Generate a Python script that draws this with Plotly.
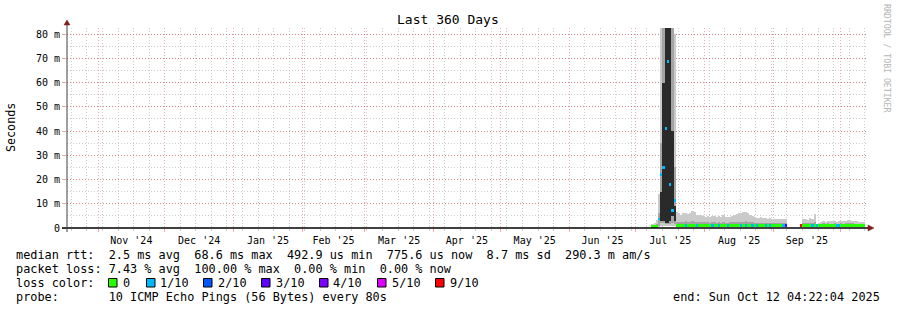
import plotly.graph_objects as go
import pandas as pd

# ---------------- data ----------------
first_day = "2025-07-08"          # first daily bin with data
range_start = "2024-10-18 01:00"
range_end = "2025-10-13 01:00"

smoke_min = [0.4, 0.4, 0.4, 0.5, 0.8, 1.0, 1.0, 1.0, 1.0, 1.0, 0.8,
             0.4, 0.4, 0.4, 0.4, 0.4, 0.4, 0.4, 0.4, 0.4, 0.4,
             0.4, 0.4, 0.4, 0.4, 0.4, 0.4, 0.4, 0.4, 0.4, 0.4,
             0.4, 0.4, 0.4, 0.4, 0.4, 0.4, 0.4, 0.4, 0.4, 0.4,
             0.4, 0.4, 0.4, 0.4, 0.4, 0.4, 0.4, 0.4, 0.4, 0.4,
             0.4, 0.4, 0.4, 0.4, 0.4, 0.4, 0.4, 0.4, 0.4, 0.4,
             None, None, None, None, None, None,
             None,
             0.4, 0.4, 0.4, 0.4, 0.4, 0.4, 0.4, 0.4,
             0.4, 0.4, 0.4, 0.4, 0.4, 0.4, 0.4, 0.4, 0.4, 0.4,
             0.4, 0.4, 0.4, 0.4, 0.4, 0.4, 0.4, 0.4, 0.4, 0.4]
smoke_max = [1.5, 2.0, 3.5, 14.0, 85, 85, 85, 85, 85, 85, 80,
             6.7, 6.0, 5.4, 6.0, 6.2, 5.8, 6.3, 7.0, 6.5, 5.4,
             5.2, 5.5, 4.8, 4.7, 5.0, 4.6, 4.8, 5.0, 4.5, 4.8,
             4.6, 5.2, 4.5, 4.4, 4.6, 4.8, 5.2, 5.8, 6.3, 6.0,
             6.5, 6.7, 6.0, 5.5, 4.8, 4.6, 4.3, 4.2, 4.4, 4.0,
             4.2, 3.9, 4.1, 3.8, 3.9, 3.7, 3.8, 3.9, 3.6, 3.8,
             None, None, None, None, None, None,
             None,
             3.6, 3.8, 3.5, 4.1, 3.6, 5.7, 1.8, 1.9,
             2.6, 2.7, 2.6, 2.8, 2.7, 2.7, 2.8, 2.6, 2.7, 2.9,
             2.7, 3.0, 3.2, 3.3, 2.9, 2.8, 2.7, 2.6, 2.5, 2.4]
mid_lo = [0.4, 0.4, 0.4, 0.8, 2.0, 2.0, 1.5, 1.5, 1.5, 2.0, 1.5,
          0.4, 0.4, 0.4, 0.4, 0.4, 0.4, 0.4, 0.4, 0.4, 0.4,
          0.4, 0.4, 0.4, 0.4, 0.4, 0.4, 0.4, 0.4, 0.4, 0.4,
          0.4, 0.4, 0.4, 0.4, 0.4, 0.4, 0.4, 0.4, 0.4, 0.4,
          0.4, 0.4, 0.4, 0.4, 0.4, 0.4, 0.4, 0.4, 0.4, 0.4,
          0.4, 0.4, 0.4, 0.4, 0.4, 0.4, 0.4, 0.4, 0.4, 0.4,
          None, None, None, None, None, None,
          None,
          0.4, 0.4, 0.4, 0.4, 0.4, 0.4, 0.4, 0.4,
          0.4, 0.4, 0.4, 0.4, 0.4, 0.4, 0.4, 0.4, 0.4, 0.4,
          0.4, 0.4, 0.4, 0.4, 0.4, 0.4, 0.4, 0.4, 0.4, 0.4]
mid_hi = [1.0, 1.2, 1.8, 6.0, 35, 85, 85, 85, 85, 85, 25,
          2.6, 2.5, 2.4, 2.6, 2.7, 2.5, 2.6, 2.8, 2.6, 2.4,
          2.4, 2.5, 2.3, 2.3, 2.4, 2.2, 2.3, 2.4, 2.2, 2.3,
          2.2, 2.4, 2.2, 2.2, 2.3, 2.3, 2.4, 2.5, 2.6, 2.5,
          2.6, 2.7, 2.5, 2.4, 2.3, 2.2, 2.1, 2.1, 2.2, 2.0,
          2.1, 2.0, 2.1, 2.0, 2.0, 1.9, 2.0, 2.0, 1.9, 2.0,
          None, None, None, None, None, None,
          None,
          1.9, 2.0, 1.9, 2.1, 1.9, 2.4, 1.5, 1.5,
          1.8, 1.9, 1.8, 1.9, 1.8, 1.8, 1.9, 1.8, 1.8, 1.9,
          1.8, 1.9, 2.0, 2.0, 1.9, 1.8, 1.8, 1.8, 1.7, 1.7]
core_lo = [None, None, None, None, 3.0, 3.0, 2.0, 2.0, 3.0, 5.0, 3.0] + [None] * 85
core_hi = [None, None, None, None, 15.0, 60.0, 85, 85, 85, 40.0, 9.0] + [None] * 85
median_ms = [0.5, 0.6, 0.7, 3.7, 22.0, 25.0, 41.0, 68.6, 18.0, 7.4, 11.5,
             0.85, 0.85, 0.85, 0.85, 0.85, 0.85, 0.85, 0.85, 0.85, 0.85,
             0.85, 0.85, 0.85, 0.85, 0.85, 0.85, 0.85, 0.85, 0.85, 0.85,
             0.85, 0.85, 0.85, 0.85, 0.85, 0.85, 0.85, 0.85, 0.85, 0.85,
             0.85, 0.85, 0.85, 0.85, 0.85, 0.85, 0.85, 0.85, 0.85, 0.85,
             0.85, 0.85, 0.85, 0.85, 0.85, 0.85, 0.85, 0.85, 0.85, 0.85,
             None, None, None, None, None, None,
             0.85,
             0.85, 0.85, 0.85, 0.85, 0.85, 0.85, 0.85, 0.85,
             0.85, 0.85, 0.85, 0.85, 0.85, 0.85, 0.85, 0.85, 0.85, 0.85,
             0.85, 0.85, 0.85, 0.85, 0.85, 0.85, 0.85, 0.85, 0.85, 0.85]
loss_tenths = [0, 0, 0, 1, 1, 1, 1, 1, 1, 1, 1,
               0, 0, 0, 0, 1, 0, 0, 0, 0, 1,
               0, 0, 0, 0, 0, 0, 1, 0, 0, 1,
               0, 0, 0, 1, 0, 0, 0, 0, 0, 1,
               0, 1, 0, 0, 1, 0, 1, 0, 0, 0,
               1, 0, 1, 0, 0, 0, 0, 0, 1, 3,
               None, None, None, None, None, None,
               9,
               0, 0, 0, 0, 1, 0, 1, 0,
               0, 0, 0, 0, 0, 0, 0, 1, 1, 0,
               0, 0, 0, 0, 0, 0, 0, 0, 0, 0]

y_ticks = [0, 10, 20, 30, 40, 50, 60, 70, 80]
y_tick_text = ["0", "10 m", "20 m", "30 m", "40 m", "50 m", "60 m", "70 m", "80 m"]

loss_legend = ["0", "1/10", "2/10", "3/10", "4/10", "5/10", "9/10"]
loss_colors = {0: "#26ff00", 1: "#00b8ff", 2: "#0059ff", 3: "#5e00ff",
               4: "#7e00ff", 5: "#dd00ff", 9: "#ff0000"}
loss_legend_keys = [0, 1, 2, 3, 4, 5, 9]

median_line = "median rtt:  2.5 ms avg  68.6 ms max  492.9 us min  775.6 us now  8.7 ms sd  290.3 m am/s"
loss_line = "packet loss: 7.43 % avg  100.00 % max  0.00 % min  0.00 % now"
probe_line = "probe:       10 ICMP Echo Pings (56 Bytes) every 80s"
end_line = "end: Sun Oct 12 04:22:04 2025"
title_text = "Last 360 Days"
y_title = "Seconds"
watermark = "RRDTOOL / TOBI OETIKER"

# ---------------- figure ----------------
MONO = "DejaVu Sans Mono"
days = pd.date_range(first_day, periods=len(smoke_max), freq="D") + pd.Timedelta(hours=12)
DAY_MS = 86400000


def band(lo, hi):
    base, height = [], []
    for a, b in zip(lo, hi):
        if a is None or b is None:
            base.append(None)
            height.append(None)
        else:
            base.append(a)
            height.append(b - a)
    return base, height


fig = go.Figure()
for lo, hi, col in [(smoke_min, smoke_max, "#cacaca"),
                    (mid_lo, mid_hi, "#a4a4a4"),
                    (core_lo, core_hi, "#2a2a2a")]:
    b, h = band(lo, hi)
    fig.add_trace(go.Bar(x=days, y=h, base=b, width=DAY_MS, marker_color=col,
                         marker_line_width=0, hoverinfo="skip", showlegend=False))

med_half = 0.6
mb = [None if m is None else m - med_half for m in median_ms]
mh = [None if m is None else 2 * med_half for m in median_ms]
mc = [loss_colors.get(l, "#ffffff") if l is not None else "#ffffff" for l in loss_tenths]
fig.add_trace(go.Bar(x=days, y=mh, base=mb, width=DAY_MS, marker_color=mc,
                     marker_line_width=0, hoverinfo="skip", showlegend=False))

L, R, T, B = 67, 30, 28, 82
W, H = 897, 310
PW, PH = W - L - R, H - T - B


def px(p):
    return (p - L) / PW


def py(p):
    return (T + PH - p) / PH


grid_major = "rgba(222,0,0,0.35)"
grid_minor = "rgba(143,143,143,0.45)"

fig.update_layout(
    width=W, height=H, margin=dict(l=L, r=R, t=T, b=B),
    paper_bgcolor="white", plot_bgcolor="white",
    barmode="overlay", bargap=0, showlegend=False,
    font=dict(family=MONO, size=10, color="black"),
    xaxis=dict(type="date", range=[range_start, range_end],
               dtick="M1", tick0="2024-11-01", ticklabelmode="period",
               tickformat="%b '%y", showgrid=True, gridcolor=grid_major,
               griddash="1px,2px", gridwidth=1, ticks="outside", ticklen=3,
               tickcolor=grid_major, showline=False, zeroline=False,
               tickfont=dict(family=MONO, size=10, color="black"),
               minor=dict(dtick=7 * DAY_MS, tick0="2024-10-20", showgrid=True,
                          gridcolor=grid_minor, griddash="1px,2px", ticks="outside",
                          ticklen=2, tickcolor=grid_minor)),
    yaxis=dict(range=[0, 82.5], tickvals=y_ticks, ticktext=y_tick_text,
               showgrid=True, gridcolor=grid_major, griddash="1px,2px",
               ticks="outside", ticklen=4, tickcolor=grid_major,
               zeroline=False, showline=False,
               tickfont=dict(family=MONO, size=10, color="black"),
               minor=dict(dtick=5, showgrid=True, gridcolor=grid_minor,
                          griddash="1px,2px")),
)

shapes = []
# axes
shapes.append(dict(type="line", xref="paper", yref="paper", x0=px(62), x1=px(869),
                   y0=0, y1=0, line=dict(color="black", width=1.5), layer="above"))
shapes.append(dict(type="line", xref="paper", yref="paper", x0=0, x1=0,
                   y0=py(232), y1=py(24), line=dict(color="#404040", width=1), layer="above"))
# arrows
shapes.append(dict(type="path", xref="paper", yref="paper", xsizemode="pixel",
                   ysizemode="pixel", xanchor=0, yanchor=1,
                   path="M -3,3 L 3,3 L 0,8 Z", fillcolor="#7f1f1f",
                   line=dict(color="#7f1f1f", width=0.5)))
shapes.append(dict(type="path", xref="paper", yref="paper", xsizemode="pixel",
                   ysizemode="pixel", xanchor=1, yanchor=0,
                   path="M 1,-3 L 1,3 L 7,0 Z", fillcolor="#7f1f1f",
                   line=dict(color="#7f1f1f", width=0.5)))

annotations = []


def text(s, x, y, size=11.85, xanchor="left", color="black", angle=0):
    annotations.append(dict(text=s.replace(" ", "\u00a0"), x=px(x), y=py(y),
                            xref="paper", yref="paper", showarrow=False,
                            xanchor=xanchor, yanchor="middle", textangle=angle,
                            font=dict(family=MONO, size=size, color=color)))


text(title_text, 448, 19, size=13, xanchor="center")
text(y_title, 11, 127, size=11.7, xanchor="center", angle=-90)
text(watermark, 887, 59, size=8.2, xanchor="center", color="#b4b4b4", angle=90)
text(median_line, 14, 254.5)
text(loss_line, 14, 268.5)
text("loss color:", 14, 282.5)
text(probe_line, 14, 296.5)
text(end_line, 882, 296.5, xanchor="right")

box_left = [108, 146, 203, 261, 319, 377, 435]
label_left = [121, 158, 216, 274, 331, 390, 448]
for bl, ll, lab, key in zip(box_left, label_left, loss_legend, loss_legend_keys):
    shapes.append(dict(type="rect", xref="paper", yref="paper",
                       x0=px(bl + 0.5), x1=px(bl + 9), y0=py(287), y1=py(278.5),
                       fillcolor=loss_colors[key], line=dict(color="black", width=1)))
    text(lab, ll, 282.5)

fig.update_layout(shapes=shapes, annotations=annotations)
fig.write_html("out.html")
